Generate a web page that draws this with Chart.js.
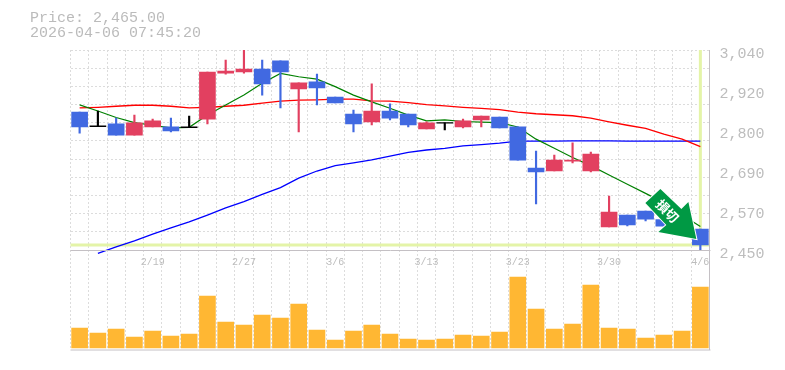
<!DOCTYPE html>
<html>
<head>
<meta charset="utf-8">
<title>Price chart</title>
<script src="https://cdn.jsdelivr.net/npm/chart.js@4"></script>
<style>
    html, body { margin: 0; padding: 0; background: #fff; }
    #wrap { position: relative; width: 785px; height: 370px; }
    .title { position: absolute; left: 30px; font: 15px/15px "Liberation Mono", monospace; color: #bbb; white-space: pre; }
</style>
</head>
<body>
<div id="wrap">
    <div class="title" style="top:11px">Price: 2,465.00</div>
    <div class="title" style="top:26px">2026-04-06 07:45:20</div>
    <canvas id="chart" width="785" height="370"></canvas>
</div>
<script>
const dates = ['2/13','2/14','2/15','2/16','2/19','2/20','2/21','2/22','2/26','2/27','2/28','3/1','3/4','3/6','3/7','3/8','3/11','3/12','3/12','3/13','3/14','3/15','3/18','3/19','3/23','3/24','3/25','3/26','3/27','3/30','3/31','4/1','4/2','4/3','4/6'];
const dateLabelIndexes = [4, 9, 14, 19, 24, 29, 34];
const dateLabels = ['2/19', '2/27', '3/6', '3/13', '3/23', '3/30', '4/6'];

const opens  = [2857,2815,2822,2789,2813,2813,2812,2836,2972,2975,2984,3008,2925,2946,2901,2851,2828,2860,2851,2807,2825,2813,2834,2842,2813,2692,2683,2712,2683,2518,2553,2565,2540,2525,2512];
const closes = [2813,2815,2789,2825,2831,2801,2812,2975,2978,2984,2940,2975,2943,2928,2884,2822,2860,2839,2819,2825,2825,2831,2845,2810,2715,2680,2715,2715,2733,2562,2524,2541,2520,2505,2465];
const highs  = [2857,2860,2839,2848,2836,2839,2845,2975,3010,3040,3010,3008,2943,2969,2901,2863,2940,2881,2851,2828,2825,2836,2845,2842,2813,2742,2730,2766,2739,2609,2553,2565,2540,2525,2512];
const lows   = [2795,2815,2789,2789,2813,2798,2812,2822,2969,2972,2907,2869,2798,2878,2884,2798,2819,2834,2813,2807,2804,2810,2813,2810,2715,2586,2683,2707,2680,2518,2521,2536,2520,2505,2450];

const maShort = [2878,2860,2841,2826,2818,2810,2812,2848,2878,2907,2942,2971,2961,2954,2932,2907,2887,2868,2848,2831,2834,2829,2827,2826,2813,2777,2750,2723,2699,2671,2644,2617,2589,2553,2519];
const maMid   = [2869,2871,2874,2877,2877,2874,2869,2871,2874,2877,2883,2889,2892,2893,2895,2895,2890,2889,2885,2879,2875,2871,2868,2864,2857,2852,2849,2846,2839,2828,2818,2809,2792,2777,2755];
const maLong  = [null,2440,2459,2477,2497,2515,2533,2553,2574,2593,2614,2634,2662,2683,2699,2707,2716,2727,2738,2745,2750,2757,2761,2765,2771,2771,2771,2772,2772,2772,2771,2771,2771,2771,2771];

const volumes = [20,15,19,11,17,12,14,52,26,23,33,30,44,18,8,17,23,14,9,8,9,13,12,16,71,39,19,24,63,20,19,10,13,17,61];

const priceTicks = [2450, 2568, 2686, 2804, 2922, 3040];
const priceTickLabels = ['2,450', '2,570', '2,690', '2,800', '2,920', '3,040'];
const lastPrice = 2465;
const signalText = '損切';

// the price panel takes the upper two thirds, so the scale runs on below the panel
const priceMin = 2450, priceMax = 3040, scaleFloor = 2155;
const gridRows = 11;

const BLUE = '#4169e1', RED = '#e24060', BLACK = '#000';
const GRID = '#dcdcdc', AXIS = '#c4c0c4', LABEL = '#bdbdbd', MARK = '#e4f4a8';
const monoFont = '"Liberation Mono", monospace';

function candleColor(i) {
    if (opens[i] === closes[i]) return BLACK;
    return closes[i] > opens[i] ? RED : BLUE;
}
const candleColors = dates.map((d, i) => candleColor(i));

// dojis still need a visible body, so give them a thin one
const bodies = dates.map((d, i) => opens[i] === closes[i] ? [opens[i] - 1, opens[i] + 1] : [opens[i], closes[i]]);
const wicks = dates.map((d, i) => [lows[i], highs[i]]);

const panelLines = {
    id: 'panelLines',
    beforeDatasetsDraw(chart) {
        const { ctx, chartArea, scales } = chart;
        const y = scales.y.getPixelForValue(lastPrice);
        const x = scales.x.getPixelForValue(dates.length - 1);
        ctx.save();
        ctx.strokeStyle = MARK;
        ctx.lineWidth = 3;
        ctx.beginPath();
        ctx.moveTo(chartArea.left, y);
        ctx.lineTo(chartArea.right, y);
        ctx.moveTo(x, chartArea.top);
        ctx.lineTo(x, y);
        ctx.stroke();
        ctx.restore();
    },
    afterDraw(chart) {
        const { ctx, chartArea, scales } = chart;
        const split = Math.round(scales.y.getPixelForValue(priceMin)) + 0.5;
        ctx.save();
        ctx.strokeStyle = AXIS;
        ctx.lineWidth = 1;
        ctx.beginPath();
        ctx.moveTo(chartArea.left, split);
        ctx.lineTo(chartArea.right + 1, split);
        ctx.moveTo(chartArea.left, chartArea.bottom);
        ctx.lineTo(chartArea.right + 1, chartArea.bottom);
        ctx.moveTo(chartArea.right, chartArea.top);
        ctx.lineTo(chartArea.right, chartArea.bottom);
        ctx.stroke();
        ctx.restore();
    }
};

// green signal arrow, anchored on the last candle's close
const signalArrow = {
    id: 'signalArrow',
    afterDatasetsDraw(chart) {
        const { ctx, scales } = chart;
        const px = scales.x.getPixelForValue(dates.length - 1);
        const py = scales.y.getPixelForValue(lastPrice);
        const shape = [[-40, -56], [-55, -42], [-34, -20], [-42, -13], [-4, -6], [-12, -43], [-19, -36]];
        ctx.save();
        ctx.beginPath();
        shape.forEach(([dx, dy], i) => i ? ctx.lineTo(px + dx, py + dy) : ctx.moveTo(px + dx, py + dy));
        ctx.closePath();
        ctx.lineWidth = 2;
        ctx.strokeStyle = '#fff';
        ctx.stroke();
        ctx.fillStyle = '#009944';
        ctx.fill();
        ctx.translate(px - 33, py - 34);
        ctx.rotate(Math.PI / 4);
        ctx.fillStyle = '#fff';
        ctx.font = 'bold 13px "Noto Sans CJK JP"';
        ctx.textAlign = 'center';
        ctx.textBaseline = 'middle';
        ctx.fillText(signalText, 0, 0);
        ctx.restore();
    }
};

new Chart(document.getElementById('chart'), {
    data: {
        labels: dates,
        datasets: [
            { type: 'line', data: maLong, yAxisID: 'y', borderColor: '#0000ff', borderWidth: 1.3, pointRadius: 0, tension: 0, order: 5 },
            { type: 'line', data: maMid, yAxisID: 'y', borderColor: '#ff0000', borderWidth: 1.3, pointRadius: 0, tension: 0, order: 4 },
            { type: 'line', data: maShort, yAxisID: 'y', borderColor: '#008000', borderWidth: 1.2, pointRadius: 0, tension: 0, order: 3 },
            { type: 'bar', data: wicks, yAxisID: 'y', backgroundColor: candleColors, barThickness: 1.5, grouped: false, order: 2 },
            { type: 'bar', data: bodies, yAxisID: 'y', backgroundColor: candleColors, barThickness: 16, grouped: false, order: 1 },
            { type: 'bar', data: volumes, yAxisID: 'vol', backgroundColor: '#ffb733', barThickness: 16, grouped: false, order: 1 }
        ]
    },
    options: {
        responsive: false,
        animation: false,
        layout: { padding: { left: 70.5, right: 10.5, top: 50, bottom: 20 } },
        plugins: { legend: { display: false }, tooltip: { enabled: false } },
        scales: {
            x: {
                position: { y: priceMin },
                border: { display: false, dash: [2, 2] },
                grid: { color: GRID, drawTicks: false },
                ticks: {
                    autoSkip: false, maxRotation: 0, padding: 6, color: LABEL,
                    font: { family: monoFont, size: 10 },
                    callback: (v, i) => {
                        const k = dateLabelIndexes.indexOf(i);
                        return k >= 0 ? dateLabels[k] : '';
                    }
                }
            },
            y: {
                min: scaleFloor, max: priceMax, position: 'left',
                border: { display: false, dash: [2, 2] },
                grid: { color: GRID, drawTicks: false },
                ticks: { display: false },
                afterBuildTicks: scale => {
                    scale.ticks = Array.from({ length: gridRows + 1 }, (_, i) => ({
                        value: priceMin + i * (priceMax - priceMin) / gridRows
                    }));
                }
            },
            priceAxis: {
                min: scaleFloor, max: priceMax, position: 'right',
                border: { display: false },
                grid: { display: false, drawTicks: false },
                afterBuildTicks: scale => { scale.ticks = priceTicks.map(value => ({ value })); },
                ticks: {
                    padding: 10, color: LABEL,
                    font: { family: monoFont, size: 15, lineHeight: 0.5 },
                    // blank first line pushes the label a little under its tick, as in the original
                    callback: value => ['', priceTickLabels[priceTicks.indexOf(value)]]
                }
            },
            vol: { display: false, min: -2, max: 298 }
        }
    },
    plugins: [panelLines, signalArrow]
});
</script>
</body>
</html>
